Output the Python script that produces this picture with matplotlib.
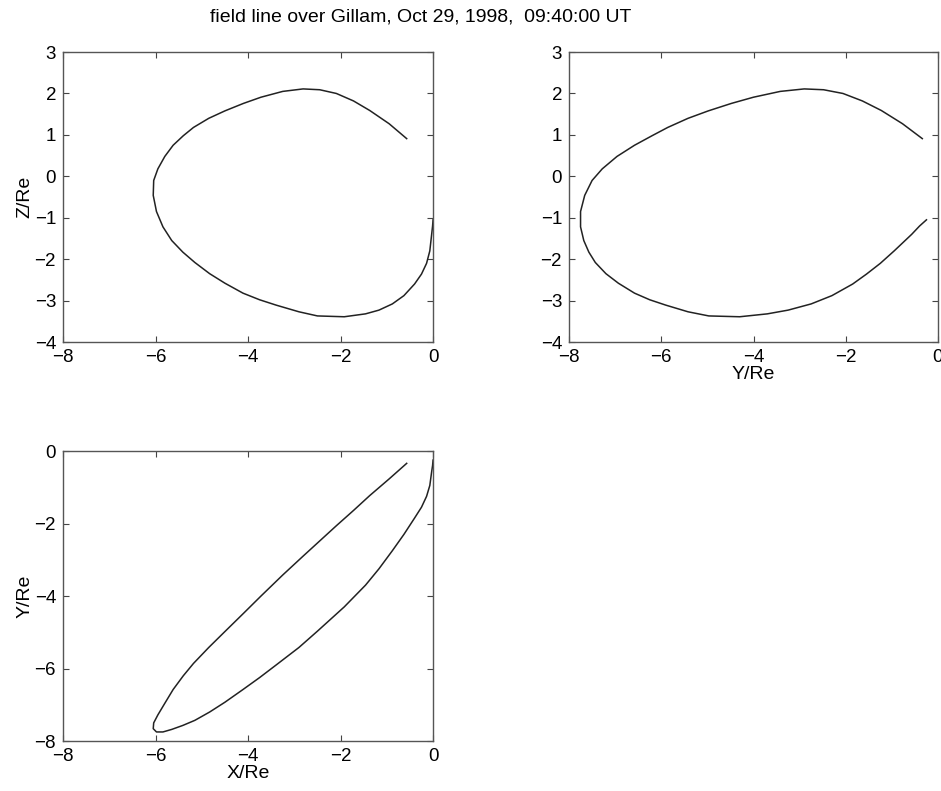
import numpy as np
import matplotlib
matplotlib.use("Agg")
import matplotlib.pyplot as plt

plt.rcParams['font.family'] = ['Liberation Sans', 'DejaVu Sans']

# traced field line, GSM coordinates in Earth radii (southern foot -> northern foot)
x_re = [0.00, -0.01, -0.03, -0.07, -0.14, -0.25, -0.40, -0.63, -0.88, -1.17,
        -1.46, -1.92, -2.50, -2.90, -3.39, -3.75, -4.11, -4.50, -4.83, -5.15,
        -5.41, -5.65, -5.84, -5.98, -6.05, -6.04, -5.95, -5.80, -5.62, -5.40,
        -5.18, -4.85, -4.50, -4.10, -3.72, -3.25, -2.81, -2.45, -2.09, -1.72,
        -1.37, -0.95, -0.57]
y_re = [-0.25, -0.40, -0.57, -0.95, -1.25, -1.55, -1.85, -2.30, -2.75, -3.25,
        -3.70, -4.30, -4.97, -5.42, -5.90, -6.25, -6.58, -6.93, -7.20, -7.43,
        -7.57, -7.68, -7.75, -7.75, -7.66, -7.50, -7.28, -6.96, -6.58, -6.20,
        -5.86, -5.42, -4.98, -4.48, -4.00, -3.42, -2.90, -2.48, -2.06, -1.64,
        -1.23, -0.77, -0.34]
z_re = [-1.05, -1.20, -1.40, -1.80, -2.10, -2.36, -2.60, -2.88, -3.08, -3.23,
        -3.32, -3.39, -3.37, -3.27, -3.11, -2.98, -2.82, -2.58, -2.35, -2.08,
        -1.83, -1.55, -1.22, -0.85, -0.46, -0.10, 0.18, 0.48, 0.75, 0.98,
        1.18, 1.40, 1.58, 1.76, 1.91, 2.05, 2.11, 2.09, 2.00, 1.82,
        1.59, 1.27, 0.91]

title_str = "field line over Gillam, Oct 29, 1998,  09:40:00 UT"

fig = plt.figure(figsize=(9.41, 7.91), dpi=100)

def style_axes(ax):
        ax.tick_params(direction='in', top=True, right=True, length=4,
                       labelsize=13.5, color='#444444', pad=5)
        for s in ax.spines.values():
                s.set_color('#555555')
                s.set_linewidth(1.0)

ax1 = fig.add_axes([0.0670, 0.5676, 0.3932, 0.3666])
ax1.plot(x_re, z_re, color='#222222', lw=1.1)
ax1.set_xlim([-8, 0])
ax1.set_ylim([-4, 3])
ax1.set_xticks([-8, -6, -4, -2, 0])
ax1.set_yticks(range(-4, 4))
ax1.set_ylabel('Z/Re', fontsize=14, labelpad=1)
style_axes(ax1)

ax2 = fig.add_axes([0.6047, 0.5676, 0.3921, 0.3666])
ax2.plot(y_re, z_re, color='#222222', lw=1.1)
ax2.set_xlim([-8, 0])
ax2.set_ylim([-4, 3])
ax2.set_xticks([-8, -6, -4, -2, 0])
ax2.set_yticks(range(-4, 4))
ax2.set_xlabel('Y/Re', fontsize=14, labelpad=0)
style_axes(ax2)

ax3 = fig.add_axes([0.0670, 0.0632, 0.3932, 0.3666])
ax3.plot(x_re, y_re, color='#222222', lw=1.1)
ax3.set_xlim([-8, 0])
ax3.set_ylim([-8, 0])
ax3.set_xticks([-8, -6, -4, -2, 0])
ax3.set_yticks([-8, -6, -4, -2, 0])
ax3.set_xlabel('X/Re', fontsize=14, labelpad=0)
ax3.set_ylabel('Y/Re', fontsize=14, labelpad=1)
style_axes(ax3)

fig.text(0.4474, 0.979, title_str, ha='center', va='center', fontsize=14)

fig.savefig('out.png', dpi=100)
